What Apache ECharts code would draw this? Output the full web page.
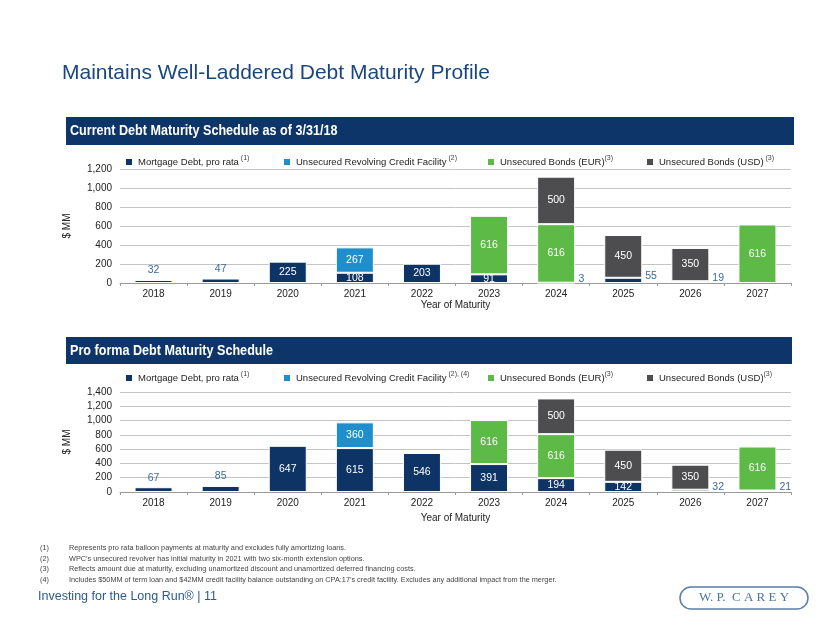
<!DOCTYPE html>
<html>
<head>
<meta charset="utf-8">
<script src="https://cdn.jsdelivr.net/npm/echarts@6/dist/echarts.min.js"></script>
<style>
html,body{margin:0;padding:0;background:#fff;}
#main{width:830px;height:623px;}
</style>
</head>
<body>
<div id="main"></div>
<script>
// ---- data ----
const years = ['2018','2019','2020','2021','2022','2023','2024','2025','2026','2027'];

// Current Debt Maturity Schedule as of 3/31/18
const curMortgage = [32, 47, 225, 108, 203, 91, 3, 55, 19, null];
const curRevolver = [null, null, null, 267, null, null, null, null, null, null];
const curEUR      = [null, null, null, null, null, 616, 616, null, null, 616];
const curUSD      = [null, null, null, null, null, null, 500, 450, 350, null];

// Pro forma Debt Maturity Schedule
const proMortgage = [67, 85, 647, 615, 546, 391, 194, 142, 32, 21];
const proRevolver = [null, null, null, 360, null, null, null, null, null, null];
const proEUR      = [null, null, null, null, null, 616, 616, null, null, 616];
const proUSD      = [null, null, null, null, null, null, 500, 450, 350, null];

const yTicks1 = [0, 200, 400, 600, 800, 1000, 1200];
const yTicks2 = [0, 200, 400, 600, 800, 1000, 1200, 1400];

const seriesNames = ['Mortgage Debt, pro rata', 'Unsecured Revolving Credit Facility', 'Unsecured Bonds (EUR)', 'Unsecured Bonds (USD)'];
const legendNotes1 = [' (1)', ' (2)', '(3)', ' (3)'];
const legendNotes2 = [' (1)', ' (2), (4)', '(3)', '(3)'];

const footnotes = [
  ['(1)', 'Represents pro rata balloon payments at maturity and excludes fully amortizing loans.'],
  ['(2)', 'WPC\u2019s unsecured revolver has initial maturity in 2021 with two six-month extension options.'],
  ['(3)', 'Reflects amount due at maturity, excluding unamortized discount and unamortized deferred financing costs.'],
  ['(4)', 'Includes $50MM of term loan and $42MM credit facility balance outstanding on CPA:17\u2019s credit facility. Excludes any additional impact from the merger.']
];

// ---- style ----
const FONT = 'Liberation Sans, Arial, sans-serif';
const COLORS = ['#0e3466', '#1e8fcc', '#5dba46', '#4d4d4f'];
const OUT_COLOR = '#3d6a9c';

function mortgageData(mort, others) {
  return mort.map((v, i) => {
    if (v == null) return null;
    const rest = others.reduce((s, a) => s + (a[i] || 0), 0);
    let label;
    if (rest === 0 && v < 100) {
      label = {position: 'top', distance: 4, color: OUT_COLOR};
    } else if (rest > 0 && v < 80) {
      label = {position: 'right', distance: 3, offset: [0, -4], color: OUT_COLOR};
    } else {
      label = {position: 'inside', color: '#fff'};
    }
    return {value: v, label: label};
  });
}

function buildSeries(idx, mort, rev, eur, usd) {
  const stack = 'st' + idx;
  const common = {
    type: 'bar', stack: stack, xAxisIndex: idx, yAxisIndex: idx, barWidth: 38,
    itemStyle: {borderColor: '#ffffff', borderWidth: 1},
    label: {show: true, position: 'inside', color: '#fff', fontSize: 10.5, fontFamily: FONT},
    emphasis: {disabled: true},
    animation: false
  };
  return [
    Object.assign({}, common, {name: seriesNames[0], data: mortgageData(mort, [rev, eur, usd]), itemStyle: Object.assign({}, common.itemStyle, {color: COLORS[0]})}),
    Object.assign({}, common, {name: seriesNames[1], data: rev, itemStyle: Object.assign({}, common.itemStyle, {color: COLORS[1]})}),
    Object.assign({}, common, {name: seriesNames[2], data: eur, itemStyle: Object.assign({}, common.itemStyle, {color: COLORS[2]})}),
    Object.assign({}, common, {name: seriesNames[3], data: usd, itemStyle: Object.assign({}, common.itemStyle, {color: COLORS[3]})})
  ];
}

const legendX = [124, 282, 486, 645];
function buildLegends(top, notes) {
  return seriesNames.map((n, i) => ({
    data: [n], left: legendX[i], top: top, padding: 0,
    itemWidth: 8, itemHeight: 8, icon: 'rect', selectedMode: false,
    formatter: name => '{t|' + name + '}{s|' + notes[i] + '}',
    textStyle: {
      fontFamily: FONT, color: '#222',
      rich: {
        t: {fontSize: 9.5, lineHeight: 15, color: '#222', fontFamily: FONT},
        s: {fontSize: 7, lineHeight: 9, verticalAlign: 'top', color: '#444', fontFamily: FONT}
      }
    }
  }));
}

function xAxisCfg(idx, gap) {
  return {
    type: 'category', gridIndex: idx, data: years,
    axisLine: {lineStyle: {color: '#9a9a9a'}},
    axisTick: {show: true, length: 3, lineStyle: {color: '#9a9a9a'}},
    axisLabel: {color: '#222', fontSize: 10, fontFamily: FONT, margin: 6},
    name: 'Year of Maturity', nameLocation: 'middle', nameGap: gap,
    nameTextStyle: {color: '#222', fontSize: 10, fontFamily: FONT}
  };
}
function yAxisCfg(idx, ticks) {
  return {
    type: 'value', gridIndex: idx, min: ticks[0], max: ticks[ticks.length - 1], interval: ticks[1] - ticks[0],
    axisLine: {show: false}, axisTick: {show: false},
    axisLabel: {color: '#222', fontSize: 10, fontFamily: FONT, margin: 8, formatter: v => v.toLocaleString('en-US')},
    splitLine: {lineStyle: {color: '#c4c4c4', width: 1}},
    name: '$ MM', nameLocation: 'middle', nameRotate: 90, nameGap: 48,
    nameTextStyle: {color: '#222', fontSize: 10, fontFamily: FONT}
  };
}

const graphics = [
  {type: 'text', x: 62, y: 73, style: {text: 'Maintains Well-Laddered Debt Maturity Profile', font: '21px ' + FONT, fill: '#1a4680', textVerticalAlign: 'middle', verticalAlign: 'middle'}},
  {type: 'rect', shape: {x: 66, y: 117, width: 728, height: 28}, style: {fill: '#0d3569'}},
  {type: 'text', x: 70, y: 131, scaleX: 0.84, style: {text: 'Current Debt Maturity Schedule as of 3/31/18', font: 'bold 15px ' + FONT, fill: '#fff', textVerticalAlign: 'middle', verticalAlign: 'middle'}},
  {type: 'rect', shape: {x: 66, y: 337, width: 726, height: 27}, style: {fill: '#0d3569'}},
  {type: 'text', x: 70, y: 350.5, scaleX: 0.84, style: {text: 'Pro forma Debt Maturity Schedule', font: 'bold 15px ' + FONT, fill: '#fff', textVerticalAlign: 'middle', verticalAlign: 'middle'}},
  {type: 'text', x: 38, y: 597, style: {text: 'Investing for the Long Run\u00ae | 11', font: '12.5px ' + FONT, fill: '#2b5b8f', textVerticalAlign: 'middle', verticalAlign: 'middle'}},
  {type: 'rect', shape: {x: 680, y: 587, width: 128, height: 22, r: 11}, style: {fill: 'none', stroke: '#5b7fa8', lineWidth: 1.5}},
  {type: 'text', x: 744, y: 598, style: {text: 'W. P.  C A R E Y', font: '13px Liberation Serif, serif', fill: '#4c74a0', textAlign: 'center', align: 'center', textVerticalAlign: 'middle', verticalAlign: 'middle'}}
];
footnotes.forEach((f, i) => {
  const y = 548 + i * 10.7;
  graphics.push({type: 'text', x: 40, y: y, style: {text: f[0], font: '7.3px ' + FONT, fill: '#444', textVerticalAlign: 'middle', verticalAlign: 'middle'}});
  graphics.push({type: 'text', x: 69, y: y, style: {text: f[1], font: '7.3px ' + FONT, fill: '#444', textVerticalAlign: 'middle', verticalAlign: 'middle'}});
});

const option = {
  backgroundColor: '#fff',
  animation: false,
  textStyle: {fontFamily: FONT},
  grid: [
    {left: 120, right: 39, top: 169, height: 114},
    {left: 120, right: 39, top: 392, height: 100}
  ],
  legend: buildLegends(154.5, legendNotes1).concat(buildLegends(370.5, legendNotes2)),
  xAxis: [xAxisCfg(0, 16), xAxisCfg(1, 21)],
  yAxis: [yAxisCfg(0, yTicks1), yAxisCfg(1, yTicks2)],
  series: buildSeries(0, curMortgage, curRevolver, curEUR, curUSD).concat(buildSeries(1, proMortgage, proRevolver, proEUR, proUSD)),
  graphic: graphics
};

const chart = echarts.init(document.getElementById('main'));
chart.setOption(option);
</script>
</body>
</html>
